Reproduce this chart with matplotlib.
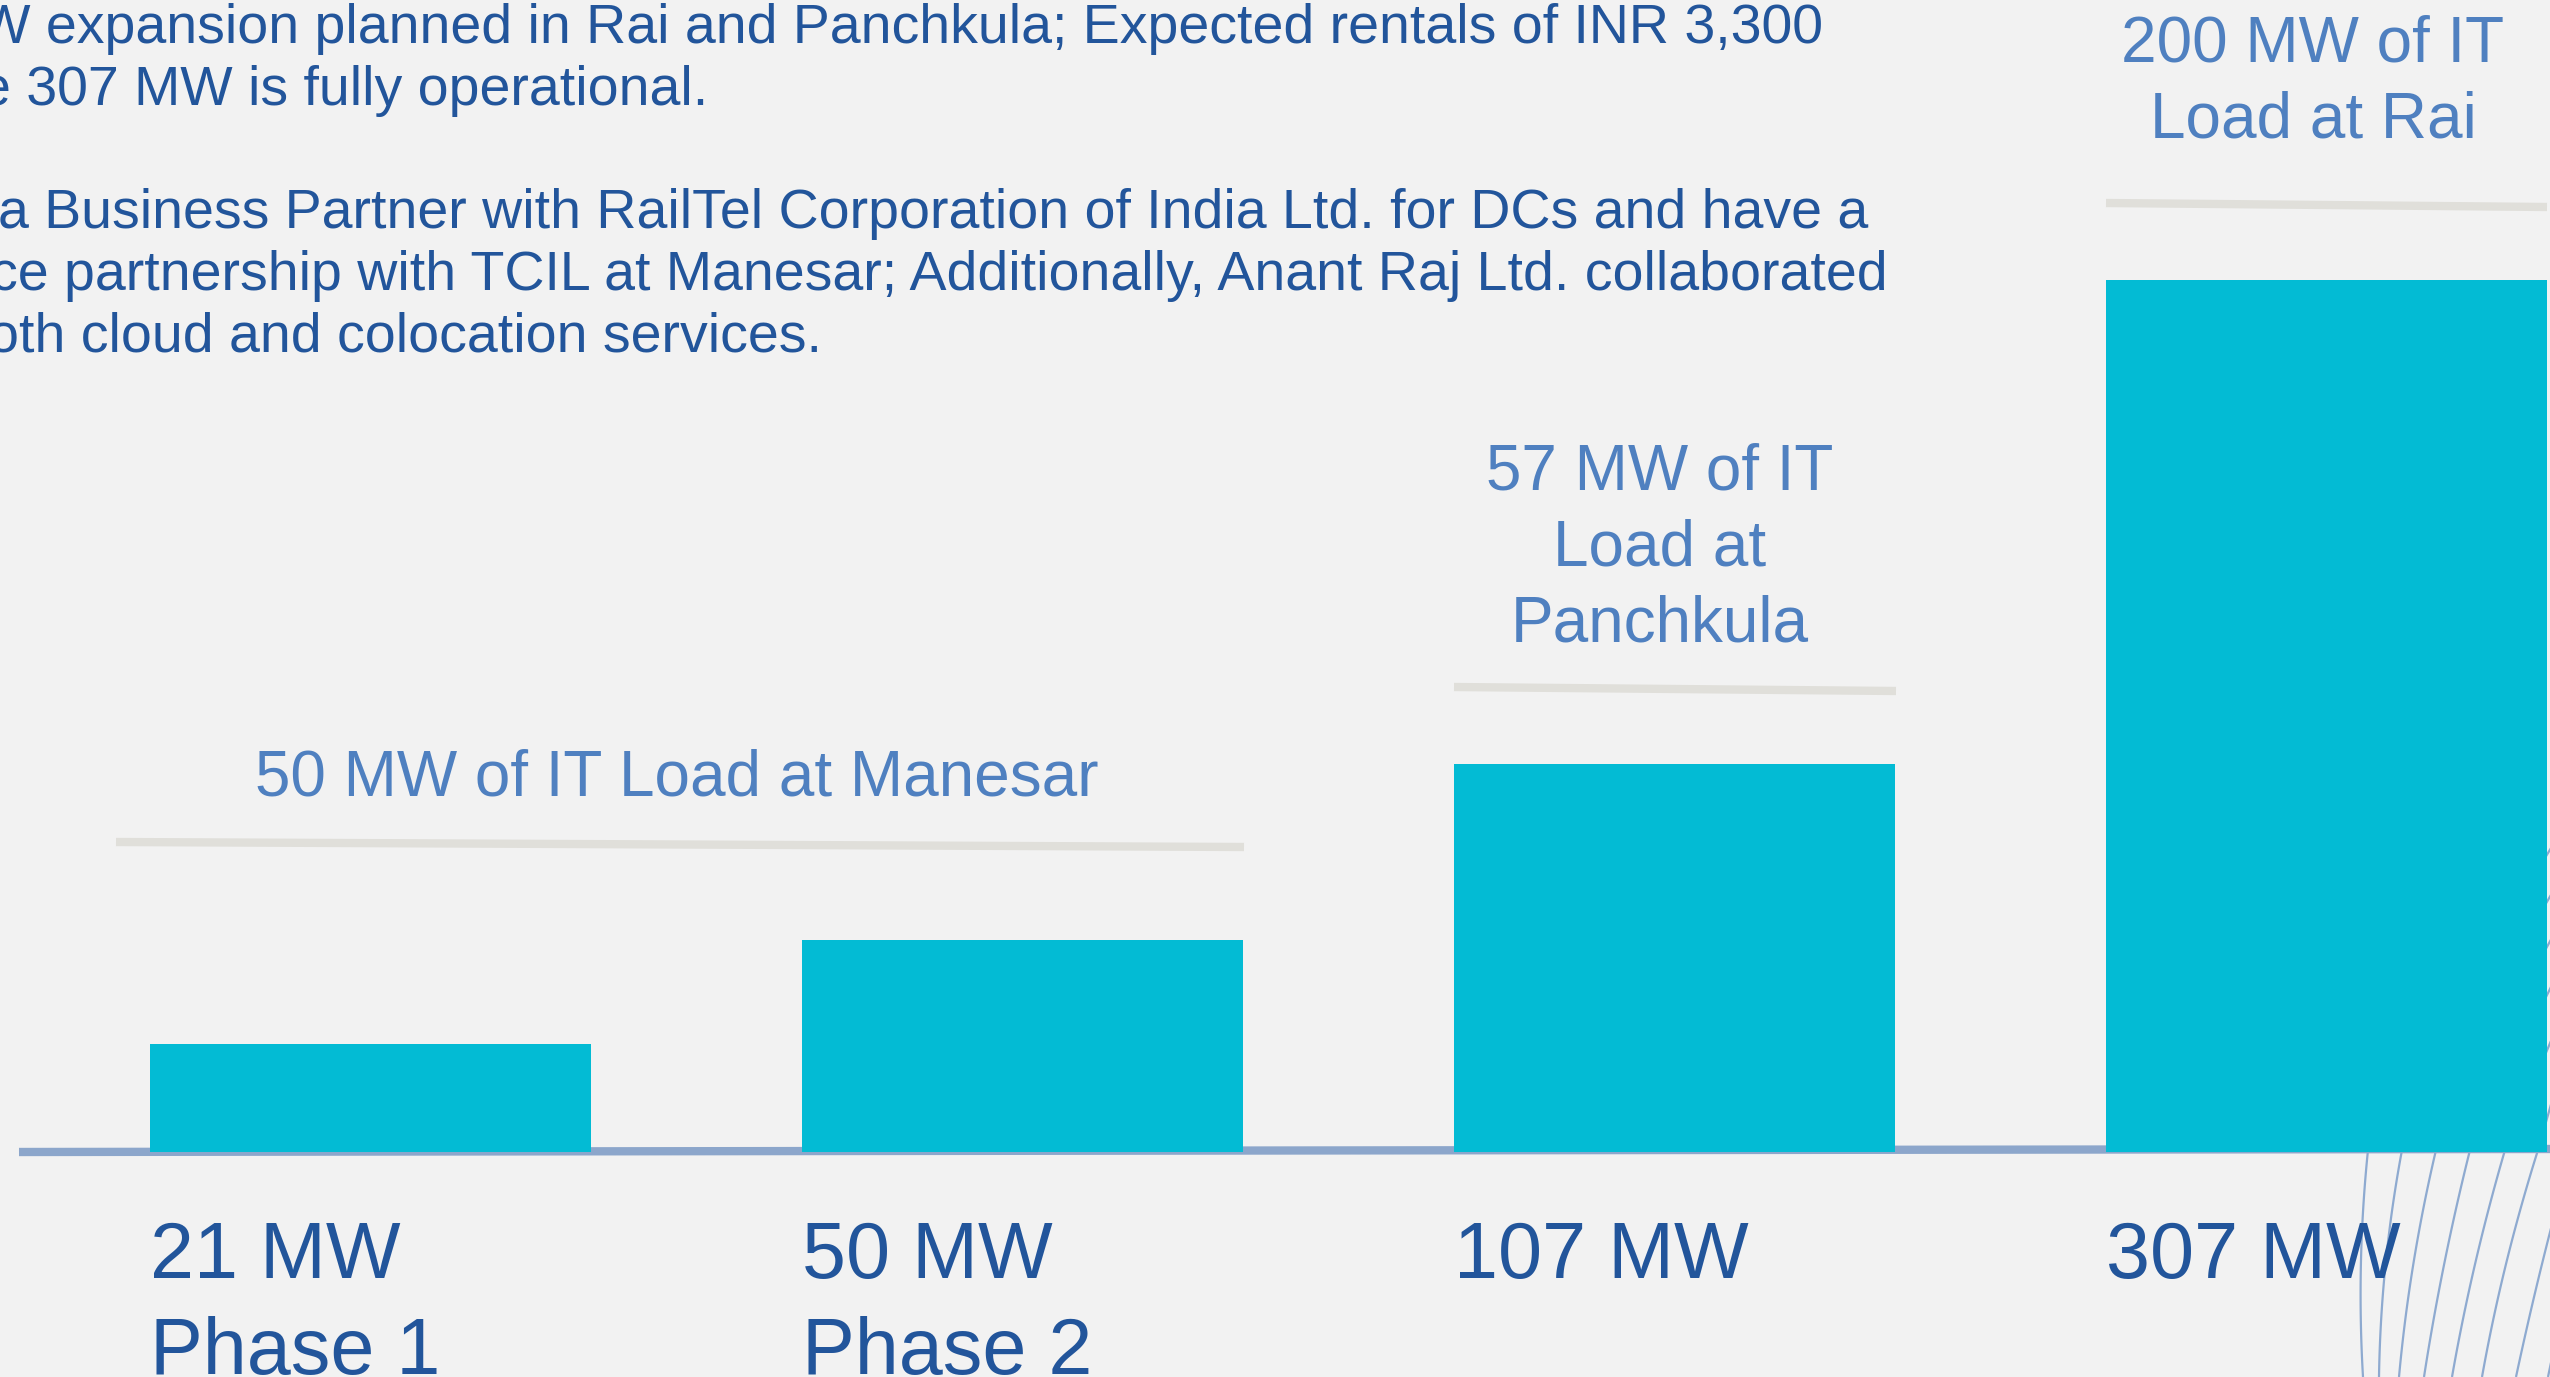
import numpy as np
import matplotlib
matplotlib.use("Agg")
import matplotlib.pyplot as plt
import matplotlib.transforms as mtransforms

plt.rcParams['font.family'] = ['Liberation Sans', 'DejaVu Sans']

# ---------------- data ----------------
stages = ["Phase 1", "Phase 2", "Panchkula", "Rai"]
capacity_labels = ["21 MW", "50 MW", "107 MW", "307 MW"]
phase_labels = ["Phase 1", "Phase 2", "", ""]
# relative bar heights as drawn in the picture (tallest = 100)
bar_heights = [12.4, 24.3, 44.5, 100.0]

annotations = ["50 MW of IT Load at Manesar",
               "57 MW of IT\nLoad at\nPanchkula",
               "200 MW of IT\nLoad at Rai"]

top_lines = [
    "MW expansion planned in Rai and Panchkula; Expected rentals of INR 3,300",
    "e 307 MW is fully operational.",
    "a Business Partner with RailTel Corporation of India Ltd. for DCs and have a",
    "ce partnership with TCIL at Manesar; Additionally, Anant Raj Ltd. collaborated",
    "oth cloud and colocation services.",
]

# ---------------- styles ----------------
BG = "#F2F2F2"
BAR = "#03BBD4"
DARK = "#22559B"
LIGHT = "#4F80C0"
GREY = "#E0DFDA"
AXIS = "#8CA6CB"
W, H = 2550, 1377

fig = plt.figure(figsize=(25.5, 13.77), dpi=100, facecolor=BG)

# background / decoration axes in pixel units
axd = fig.add_axes([0, 0, 1, 1], zorder=0)
axd.set_xlim(0, W)
axd.set_ylim(H, 0)
axd.axis("off")
axd.set_facecolor(BG)

# decorative curved lines (bottom-right)
deco_bottom_x = [2363, 2379, 2399, 2424, 2452, 2482, 2516, 2548]
deco_mid_x = [2361, 2386, 2414, 2445, 2476, 2507, 2543, 2575]
deco_axis_x = [2368, 2402, 2436, 2470, 2505, 2538, 2572, 2606]
deco_edge_y = [853, 900, 945, 993, 1048, 1115, None, None]
for bx, mx, axx, ey in zip(deco_bottom_x, deco_mid_x, deco_axis_x, deco_edge_y):
    ys = np.array([1377.0, 1260.0, 1150.0])
    coef = np.polyfit(ys, np.array([bx, mx, axx], dtype=float), 2)
    y = np.linspace(1377, 1150, 80)
    x = np.polyval(coef, y)
    if ey is not None:
        # continuation above the baseline (mostly hidden behind the last bar)
        x = np.concatenate([x, [2548.0, 2548.0 + (2548.0 - axx) * 0.3]])
        y = np.concatenate([y, [ey, ey - (1150 - ey) * 0.3]])
    axd.plot(x, y, color="#8EAAD0", lw=1.6, zorder=1, solid_capstyle="butt")

# baseline
axd.plot([19, 2550], [1152, 1149], color=AXIS, lw=6, solid_capstyle="butt", zorder=2)

# grey bracket lines
brackets = [((116, 1244), (842, 847)), ((1454, 1896), (687, 691)), ((2106, 2547), (203, 207))]
for (x0, x1), (y0, y1) in brackets:
    axd.plot([x0, x1], [y0, y1], color=GREY, lw=6, solid_capstyle="butt", zorder=2)

# annotation texts
ann_pos = [(677, 795), (1660, 490), (2313, 62)]
for txt, (x, y) in zip(annotations, ann_pos):
    lines = txt.split("\n")
    for k, ln in enumerate(lines):
        axd.text(x, y + 76 * k, ln, color=LIGHT, fontsize=46, ha="center", va="baseline", zorder=3)

# top paragraph text (clipped on the left like the reference)
top_x = [-68, -20, -2, -10, -12]
top_y = [43, 105, 228, 290, 352]
for txt, x, y in zip(top_lines, top_x, top_y):
    axd.text(x, y, txt, color=DARK, fontsize=40, ha="left", va="baseline", zorder=3)

# ---------------- bars ----------------
base_px = 1152
top_px_tallest = 280
ymax = bar_heights[-1] * base_px / (base_px - top_px_tallest)
spacing = 652.2
first_center = 370
width = 441 / spacing

axb = fig.add_axes([0, (H - base_px) / H, 1, base_px / H], zorder=1)
axb.patch.set_alpha(0)
axb.set_xlim(-first_center / spacing, (W - first_center) / spacing)
axb.set_ylim(0, ymax)
axb.axis("off")
xpos = np.arange(len(stages))
axb.bar(xpos, bar_heights, width=width, color=BAR, zorder=3)

# category labels under bars (left aligned at bar edge)
trans = mtransforms.blended_transform_factory(axb.transData, axd.transData)
for i in range(len(stages)):
    axb.text(xpos[i] - width / 2, 1278, capacity_labels[i], transform=trans, color=DARK,
             fontsize=57, ha="left", va="baseline", clip_on=False, zorder=4)
    if phase_labels[i]:
        axb.text(xpos[i] - width / 2, 1374, phase_labels[i], transform=trans, color=DARK,
                 fontsize=57, ha="left", va="baseline", clip_on=False, zorder=4)

fig.savefig("out.png", dpi=100, facecolor=BG)
